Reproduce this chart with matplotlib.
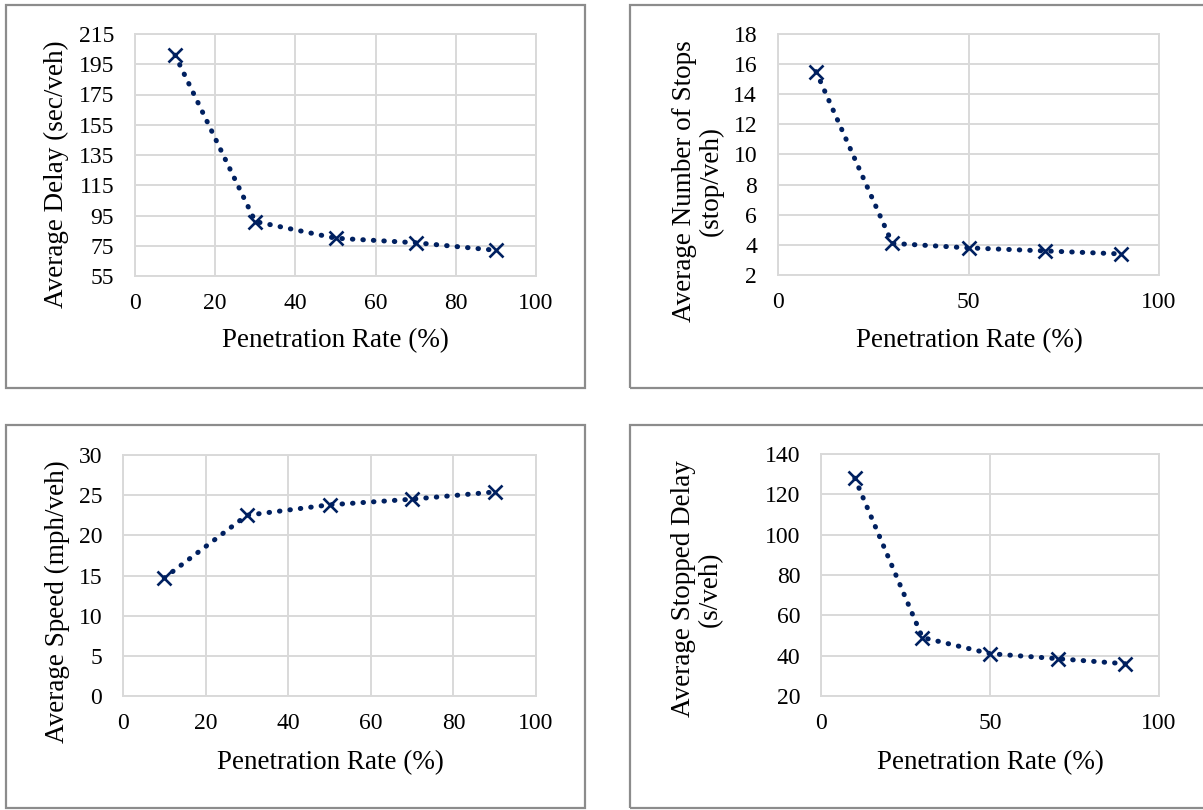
import numpy as np
import matplotlib.pyplot as plt
from matplotlib.patches import Rectangle

plt.rcParams['font.family'] = ['Liberation Serif', 'DejaVu Serif']

W, H = 1203, 810

# penetration rate (%)
rate = [10, 30, 50, 70, 90]

delay = [201, 91, 80, 77, 72]            # sec/veh
stops = [15.5, 4.1, 3.8, 3.6, 3.4]       # stop/veh
speed = [14.7, 22.5, 23.8, 24.5, 25.4]   # mph/veh
stopped = [128, 49, 41, 38.5, 36]        # s/veh

navy = '#002060'
grid_c = '#d9d9d9'
box_c = '#8c8c8c'
tick_fs = 17
lab_fs = 19.5

fig = plt.figure(figsize=(W / 100, H / 100), dpi=100)

def px_axes(x0, y0, x1, y1):
    # pixel box (top-left origin) -> figure fraction axes
    return fig.add_axes([x0 / W, 1 - y1 / H, (x1 - x0) / W, (y1 - y0) / H])

def panel(box, plotbox, y, ylim, yticks, xticks, ylabel, ylab_xy, xlab_xy):
    bx0, by0, bx1, by1 = box
    fig.patches.append(Rectangle((bx0 / W, 1 - by1 / H), (bx1 - bx0) / W, (by1 - by0) / H,
                                 transform=fig.transFigure, fill=False,
                                 edgecolor=box_c, lw=1.6, zorder=0))
    ax = px_axes(*plotbox)
    ax.plot(rate, y, color=navy, ls=(0, (0.1, 2.0)), lw=3.6, dash_capstyle='round',
            zorder=3)
    ax.plot(rate, y, ls='none', marker='x', ms=10.5, mew=1.9, color=navy, zorder=4)
    ax.set_xlim(0, 100)
    ax.set_ylim(*ylim)
    ax.set_xticks(xticks)
    ax.set_yticks(yticks)
    ax.grid(True, color=grid_c, lw=1.4)
    ax.set_axisbelow(True)
    for s in ax.spines.values():
        s.set_color(grid_c)
        s.set_linewidth(1.4)
    ax.tick_params(length=0, labelsize=tick_fs, pad=15)
    ax.tick_params(axis='x', pad=12)
    fig.text(ylab_xy[0] / W, 1 - ylab_xy[1] / H, ylabel, rotation=90,
             ha='center', va='center', fontsize=lab_fs, linespacing=1.1)
    fig.text(xlab_xy[0] / W, 1 - xlab_xy[1] / H, 'Penetration Rate (%)',
             ha='center', va='center', fontsize=lab_fs)
    return ax

panel((6, 5, 585, 388), (135, 34, 536, 276), delay, (55, 215),
      np.arange(55, 216, 20), np.arange(0, 101, 20),
      'Average Delay (sec/veh)', (56, 174), (335, 341))

panel((630, 5, 1215, 388), (778, 34, 1159, 275), stops, (2, 18),
      np.arange(2, 19, 2), [0, 50, 100],
      'Average Number of Stops\n(stop/veh)', (698, 181), (969, 341))

panel((6, 425, 585, 808), (123, 455, 536, 696), speed, (0, 30),
      np.arange(0, 31, 5), np.arange(0, 101, 20),
      'Average Speed (mph/veh)', (57, 602), (330, 763))

panel((630, 425, 1215, 808), (821, 454, 1159, 696), stopped, (20, 140),
      np.arange(20, 141, 20), [0, 50, 100],
      'Average Stopped Delay\n(s/veh)', (697, 589), (990, 763))

fig.savefig('out.png', dpi=100)
